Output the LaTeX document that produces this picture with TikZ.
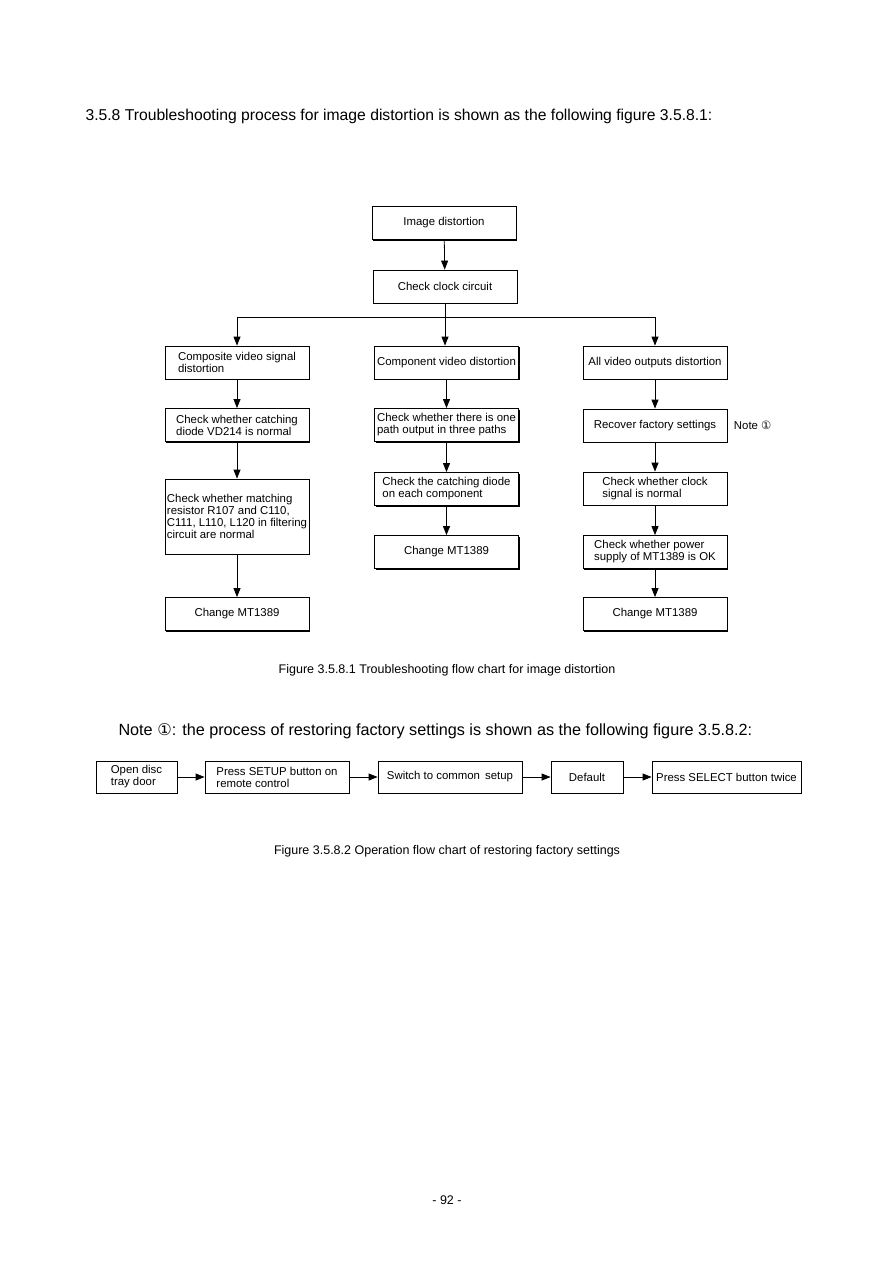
\documentclass[tikz,border=0pt]{standalone}
\usepackage{fontspec}
\setmainfont{Liberation Sans}
\newfontfamily\symfont{DejaVu Sans}
\usetikzlibrary{arrows.meta, positioning, shadows}

\begin{document}
\begin{tikzpicture}[
    x=1pt, y=-1pt,
    font=\fontsize{11.4}{12}\selectfont,
    box/.style={draw, fill=white, line width=0.8pt, minimum width=144pt, minimum height=33pt, align=left, inner sep=1pt,
        drop shadow={shadow xshift=1.1pt, shadow yshift=-1.1pt, fill=black, opacity=1}},
    heading/.style={anchor=west, font=\fontsize{15.7}{18}\selectfont},
    caption/.style={font=\fontsize{12.5}{14}\selectfont},
    arrow/.style={-{Triangle[length=9pt, width=7pt]}, line width=0.8pt}
]
\fill[white] (0,0) rectangle (894,1263);
\useasboundingbox (0,0) rectangle (894,1263);

% Headings
\node[heading] (title) at (82,116) {3.5.8 Troubleshooting process for image distortion is shown as the following figure 3.5.8.1:};
\node[heading, font=\fontsize{16.2}{18}\selectfont] (notetitle) at (115,731) {Note {\symfont ①}: the process of restoring factory settings is shown as the following figure 3.5.8.2:};

% Top of chart
\node[box] (img) at (444,223) {Image distortion};
\node[box] (clk) at (445,286.5) {Check clock circuit};
\coordinate (split) at (445,317);

\draw[arrow] (img) -- (clk);
\draw[line width=0.8pt] (clk) -- (split);

% Three branches
\node[box] (comp) at (237,362.5) {Composite video signal\\distortion};
\node[box] (cmpt) at (446.5,362.5) {Component video distortion};
\node[box] (all) at (655,362.5) {All video outputs distortion};

\draw[arrow] (split) -| (comp);
\draw[arrow] (split) -- (split |- cmpt.north);
\draw[arrow] (split) -| (all);

% Left column
\node[box] (diode) at (237,425) {Check whether catching\\diode VD214 is normal};
\node[box, minimum height=75pt] (match) at (237,516.5) {Check whether matching\\resistor R107 and C110,\\C111, L110, L120 in filtering\\circuit are normal};
\node[box] (chgL) at (237,614) {Change MT1389};

\draw[arrow] (comp) -- (diode);
\draw[arrow] (diode) -- (match);
\draw[arrow] (match) -- (chgL);

% Middle column
\node[box] (path) at (446.5,425) {Check whether there is one\\path output in three paths};
\node[box] (each) at (446.5,489) {Check the catching diode\\on each component};
\node[box] (chgM) at (446.5,552) {Change MT1389};

\draw[arrow] (cmpt) -- (path);
\draw[arrow] (path) -- (each);
\draw[arrow] (each) -- (chgM);

% Right column
\node[box] (rec) at (655,425.5) {Recover factory settings};
\node[right=3pt of rec] (note) {Note {\symfont ①}};
\node[box] (clksig) at (655,488.5) {Check whether clock\\signal is normal};
\node[box] (power) at (655,552) {Check whether power\\supply of MT1389 is OK};
\node[box] (chgR) at (655,614) {Change MT1389};

\draw[arrow] (all) -- (rec);
\draw[arrow] (rec) -- (clksig);
\draw[arrow] (clksig) -- (power);
\draw[arrow] (power) -- (chgR);

\node[caption] (cap1) at (447,670) {Figure 3.5.8.1 Troubleshooting flow chart for image distortion};

% Restoring factory settings
\node[box, minimum width=81pt, minimum height=32pt] (open) at (136.5,777) {Open disc\\tray door};
\node[box, minimum height=32pt] (setup) at (277,777) {Press SETUP button on\\remote control};
\node[box, minimum height=32pt] (switch) at (450,777) {Switch to common\, setup};
\node[box, minimum width=72pt, minimum height=32pt] (dflt) at (587,777) {Default};
\node[box, minimum width=149pt, minimum height=32pt] (select) at (726.5,777) {Press SELECT button twice};

\draw[arrow] (open) -- (setup);
\draw[arrow] (setup) -- (switch);
\draw[arrow] (switch) -- (dflt);
\draw[arrow] (dflt) -- (select);

\node[caption] (cap2) at (447,851) {Figure 3.5.8.2 Operation flow chart of restoring factory settings};

\node[caption] (page) at (447,1200) {- 92 -};

\end{tikzpicture}
\end{document}
